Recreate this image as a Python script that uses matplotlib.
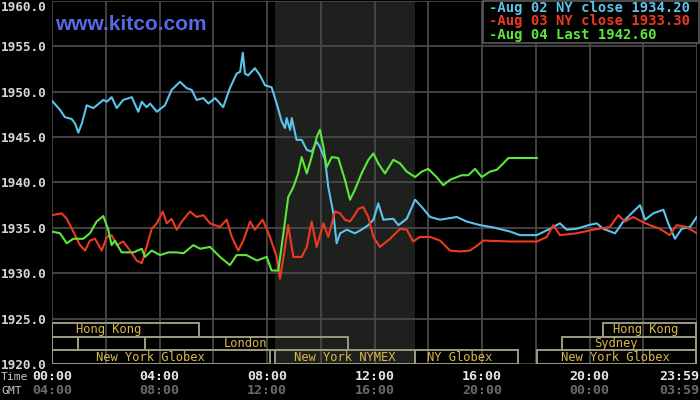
import matplotlib
matplotlib.use("Agg")
import matplotlib.pyplot as plt
import matplotlib.transforms as mtransforms
from matplotlib.patches import Rectangle

# ---------------- data ----------------
blue_h = [0.0, 0.30, 0.48, 0.73, 0.86, 0.98, 1.11, 1.29, 1.54, 1.91, 2.04, 2.22, 2.41, 2.65, 2.97,
          3.21, 3.34, 3.52, 3.65, 3.90, 4.20, 4.45, 4.76, 5.01, 5.20, 5.38, 5.63, 5.82, 6.07, 6.37,
          6.62, 6.87, 7.00, 7.10, 7.18, 7.30, 7.55, 7.74, 7.93, 8.17, 8.36, 8.55, 8.67, 8.73, 8.86,
          8.92, 9.10, 9.29, 9.48, 9.66, 9.85, 9.97, 10.16, 10.28, 10.47, 10.59, 10.72, 10.97, 11.27,
          11.52, 11.77, 11.96, 12.14, 12.33, 12.70, 12.89, 13.20, 13.51, 13.76, 14.07, 14.44, 15.06,
          15.43, 15.93, 16.42, 17.04, 17.41, 18.04, 18.53, 18.90, 19.15, 19.52, 19.96, 20.27, 20.51,
          20.95, 21.26, 21.63, 21.88, 22.07, 22.37, 22.75, 22.93, 23.18, 23.43, 23.74, 23.99]
blue_v = [1949.0, 1948.0, 1947.2, 1947.0, 1946.5, 1945.5, 1946.5, 1948.5, 1948.2, 1949.1, 1948.9,
          1949.4, 1948.2, 1949.1, 1949.4, 1947.8, 1948.9, 1948.3, 1948.7, 1947.8, 1948.5, 1950.2,
          1951.1, 1950.4, 1950.2, 1949.1, 1949.3, 1948.7, 1949.3, 1948.3, 1950.4, 1952.0, 1952.2,
          1954.3, 1952.0, 1951.8, 1952.6, 1951.8, 1950.7, 1950.5, 1948.7, 1946.7, 1946.0, 1947.1,
          1945.8, 1947.1, 1944.7, 1944.7, 1943.6, 1943.4, 1944.5, 1943.9, 1942.5, 1939.5, 1936.6,
          1933.3, 1934.4, 1934.8, 1934.4, 1934.8, 1935.3, 1935.9, 1937.7, 1935.9, 1936.0, 1935.3,
          1936.0, 1938.1, 1937.3, 1936.2, 1935.9, 1936.2, 1935.7, 1935.3, 1935.05, 1934.6, 1934.2,
          1934.2, 1934.9, 1935.5, 1934.8, 1934.9, 1935.3, 1935.5, 1934.9, 1934.4, 1935.7, 1936.8,
          1937.5, 1935.9, 1936.6, 1937.0, 1935.5, 1933.8, 1934.9, 1935.1, 1936.2]

red_h = [0.0, 0.36, 0.55, 0.79, 1.04, 1.23, 1.41, 1.60, 1.85, 2.04, 2.22, 2.41, 2.65, 2.90, 3.15,
         3.34, 3.52, 3.71, 3.90, 4.12, 4.27, 4.45, 4.64, 4.83, 5.13, 5.38, 5.63, 5.88, 6.25, 6.50,
         6.69, 6.93, 7.12, 7.37, 7.55, 7.84, 8.11, 8.36, 8.48, 8.60, 8.79, 8.98, 9.29, 9.48, 9.66,
         9.85, 10.10, 10.28, 10.53, 10.72, 10.90, 11.09, 11.21, 11.40, 11.58, 11.77, 11.96, 12.20,
         12.58, 12.95, 13.20, 13.44, 13.69, 14.07, 14.44, 14.81, 15.18, 15.55, 15.80, 16.05, 17.04,
         18.04, 18.41, 18.65, 18.90, 19.52, 20.14, 20.76, 21.07, 21.32, 21.63, 21.94, 22.25, 22.62,
         22.99, 23.24, 23.62, 23.99]
red_v = [1936.4, 1936.6, 1936.0, 1934.6, 1933.1, 1932.5, 1933.6, 1933.8, 1932.5, 1934.0, 1934.2,
         1933.1, 1933.5, 1932.5, 1931.4, 1931.1, 1932.9, 1934.9, 1935.5, 1936.8, 1935.5, 1936.0,
         1934.8, 1935.7, 1936.8, 1936.2, 1936.4, 1935.5, 1935.1, 1935.9, 1934.0, 1932.5, 1933.6,
         1935.7, 1934.8, 1935.9, 1934.0, 1931.8, 1929.4, 1931.5, 1935.3, 1931.8, 1931.8, 1932.9,
         1935.7, 1932.9, 1935.5, 1934.0, 1936.8, 1936.6, 1935.9, 1935.7, 1936.2, 1937.1, 1937.3,
         1936.2, 1934.0, 1932.9, 1933.8, 1934.9, 1934.8, 1933.5, 1934.0, 1934.0, 1933.6, 1932.5,
         1932.4, 1932.5, 1933.0, 1933.6, 1933.5, 1933.5, 1934.0, 1935.3, 1934.2, 1934.4, 1934.8,
         1935.1, 1936.4, 1935.7, 1936.2, 1935.7, 1935.3, 1934.9, 1934.2, 1935.3, 1935.1, 1934.4]

green_h = [0.0, 0.30, 0.55, 0.79, 1.16, 1.41, 1.66, 1.91, 2.09, 2.22, 2.34, 2.59, 3.03, 3.34, 3.46,
           3.71, 4.02, 4.33, 4.64, 4.89, 5.26, 5.51, 5.88, 6.25, 6.62, 6.87, 7.24, 7.62, 7.99, 8.17,
           8.42, 8.61, 8.79, 8.98, 9.16, 9.29, 9.48, 9.66, 9.85, 9.97, 10.10, 10.22, 10.41, 10.65,
           10.90, 11.09, 11.27, 11.52, 11.77, 11.96, 12.14, 12.39, 12.70, 12.95, 13.20, 13.51,
           13.76, 14.00, 14.31, 14.56, 14.81, 15.24, 15.49, 15.74, 15.99, 16.30, 16.55, 16.79,
           16.98, 18.04]
green_v = [1934.6, 1934.4, 1933.3, 1933.8, 1933.8, 1934.4, 1935.7, 1936.3, 1934.8, 1933.1, 1933.6,
           1932.3, 1932.3, 1932.7, 1931.8, 1932.5, 1932.0, 1932.3, 1932.3, 1932.2, 1933.1, 1932.7,
           1932.9, 1931.8, 1930.9, 1932.0, 1932.0, 1931.4, 1931.8, 1930.3, 1930.3, 1934.4, 1938.4,
           1939.5, 1941.0, 1942.8, 1941.0, 1942.8, 1945.0, 1945.8, 1943.9, 1941.7, 1942.8, 1942.7,
           1940.3, 1938.1, 1939.2, 1941.0, 1942.5, 1943.2, 1942.1, 1941.0, 1942.5, 1942.1, 1941.2,
           1940.6, 1941.2, 1941.5, 1940.6, 1939.7, 1940.3, 1940.8, 1940.8, 1941.5, 1940.6, 1941.2,
           1941.4, 1942.1, 1942.7, 1942.7]

legend_labels = ["-Aug 02 NY close 1934.20",
                 "-Aug 03 NY close 1933.30",
                 "-Aug 04 Last 1942.60"]

y_ticks = [1920, 1925, 1930, 1935, 1940, 1945, 1950, 1955, 1960]
x_tick_hours = [0, 4, 8, 12, 16, 20, 23.983]
ny_labels = ["00:00", "04:00", "08:00", "12:00", "16:00", "20:00", "23:59"]
gmt_labels = ["04:00", "08:00", "12:00", "16:00", "20:00", "00:00", "03:59"]

nymex_span = (8.30, 13.51)

# sessions: (row, start hour, end hour)
session_boxes = [(0, 0.0, 5.46), (0, 20.5, 23.95),
                 (1, 0.0, 0.97), (1, 0.97, 3.46), (1, 3.46, 11.0), (1, 18.96, 23.95),
                 (2, 0.0, 8.10), (2, 8.30, 13.51), (2, 13.51, 17.34), (2, 18.04, 23.95)]
# labels: (row, center hour, text)
session_labels = [(0, 2.10, "Hong Kong"), (0, 22.07, "Hong Kong"),
                  (1, 7.20, "London"), (1, 20.98, "Sydney"),
                  (2, 3.65, "New York Globex"), (2, 10.90, "New York NYMEX"),
                  (2, 15.18, "NY Globex"), (2, 20.98, "New York Globex")]

# ---------------- style ----------------
BLUE = "#5cc3ec"
RED = "#ec3a22"
GREEN = "#5ce83a"
GRID = "#484848"
SHADE = "#1d201d"
GOLD = "#d9b84a"
BOXEDGE = "#9c9a80"
MONO = "DejaVu Sans Mono"

fig = plt.figure(figsize=(7, 4), dpi=100, facecolor="black")
ax = fig.add_axes([52 / 700, 36 / 400, 645 / 700, 363 / 400])
ax.set_facecolor("black")
ax.set_xlim(0, 24)
ax.set_ylim(1920, 1960)
for s in ax.spines.values():
    s.set_visible(False)

ax.set_xticks(range(0, 25, 2))
ax.set_xticklabels([])
ax.set_yticks(y_ticks)
ylabels = ax.set_yticklabels([f"{v:.1f}" for v in y_ticks], fontfamily=MONO, fontweight="bold",
                             fontsize=9.2, color="#d6d6d6")
ylabels[-1].set_verticalalignment("top")
ax.tick_params(length=0, pad=4)
ax.grid(True, color=GRID, linewidth=1.3, zorder=1)
ax.set_axisbelow(True)

ax.axvspan(*nymex_span, color=SHADE, zorder=0.5, linewidth=0)

# session boxes (rows stacked upward from the axis bottom, in axes coords)
ROW_H = 0.0375
trans = mtransforms.blended_transform_factory(ax.transData, ax.transAxes)
for row, h0, h1 in session_boxes:
    ybot = (2 - row) * ROW_H
    ax.add_patch(Rectangle((h0, ybot), h1 - h0, ROW_H, transform=trans, fill=False,
                           edgecolor=BOXEDGE, linewidth=1.4, zorder=2))
for row, hc, txt in session_labels:
    ymid = (2 - row) * ROW_H + ROW_H / 2
    ax.text(hc, ymid, txt, transform=trans, ha="center", va="center",
            fontfamily=MONO, fontsize=8.7, color=GOLD, zorder=3)

ax.plot(blue_h, blue_v, color=BLUE, linewidth=1.5, zorder=4)
ax.plot(red_h, red_v, color=RED, linewidth=1.5, zorder=4)
ax.plot(green_h, green_v, color=GREEN, linewidth=1.5, zorder=4)

# x labels (two rows)
xtr = mtransforms.blended_transform_factory(ax.transData, fig.transFigure)
for i, (h, a, b) in enumerate(zip(x_tick_hours, ny_labels, gmt_labels)):
    last = i == len(x_tick_hours) - 1
    xpos, ha = (h, "center") if not last else (24.1, "right")
    ax.text(xpos, 1 - 377 / 400, a, transform=xtr, ha=ha, va="center", fontfamily=MONO,
            fontweight="bold", fontsize=9.6, color="#e6e6e6", clip_on=False)
    ax.text(xpos, 1 - 391 / 400, b, transform=xtr, ha=ha, va="center", fontfamily=MONO,
            fontweight="bold", fontsize=9.6, color="#6a6a6a", clip_on=False)
fig.text(1 / 700, 1 - 377 / 400, "Time", ha="left", va="center", fontfamily=MONO,
         fontsize=8.2, color="#c8c8c8")
fig.text(1 / 700, 1 - 391 / 400, "GMT", ha="left", va="center", fontfamily=MONO,
         fontsize=8.2, color="#c8c8c8")

# watermark
fig.text(55 / 700, 1 - 25 / 400, "www.kitco.com", ha="left", va="center",
         fontfamily="Liberation Sans", fontweight="bold", fontsize=15, color="#5868e8")

# legend box
fig.patches.append(Rectangle((483 / 700, 1 - 43 / 400), 216 / 700, 42.5 / 400,
                             transform=fig.transFigure, facecolor="black",
                             edgecolor="#5a5a5a", linewidth=1.2, zorder=5))
for i, (lab, col) in enumerate(zip(legend_labels, [BLUE, RED, GREEN])):
    fig.text(489 / 700, 1 - (8 + 13.5 * i) / 400, lab, ha="left", va="center",
             fontfamily=MONO, fontweight="bold", fontsize=10, color=col, zorder=6)

fig.savefig("out.png", dpi=100, facecolor="black")
